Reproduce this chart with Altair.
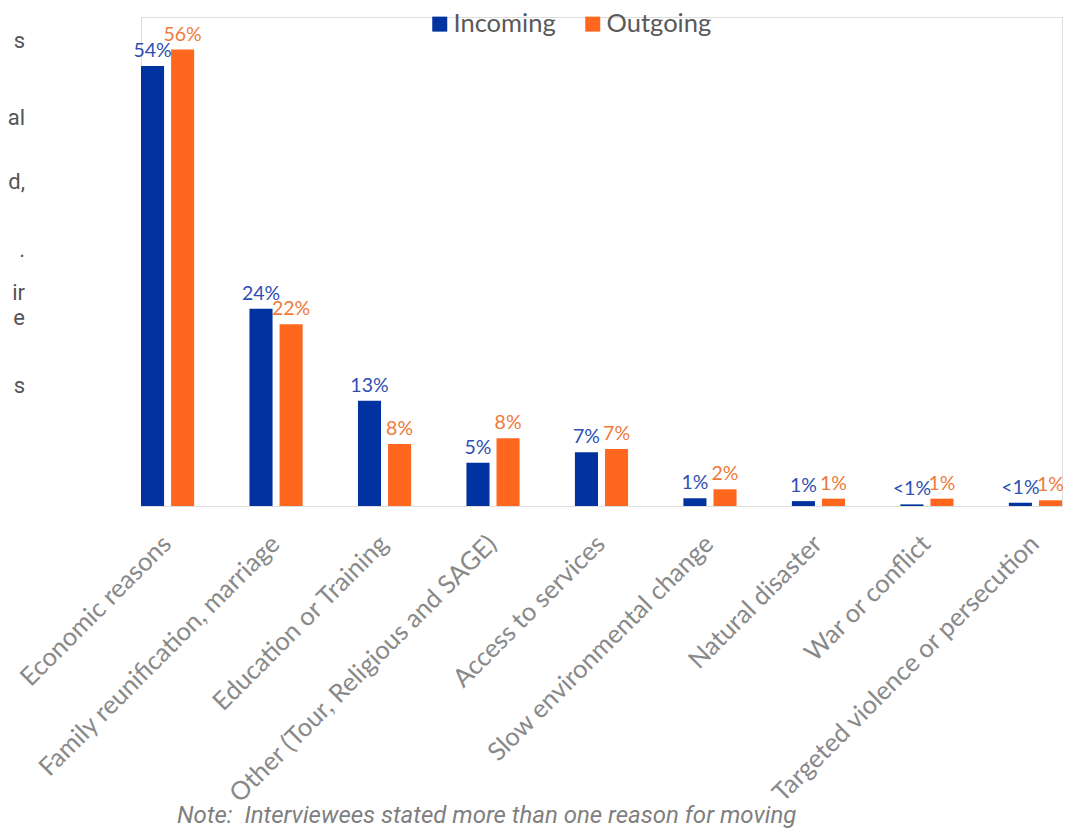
import altair as alt
import pandas as pd

categories = [
    "Economic reasons",
    "Family reunification, marriage",
    "Education or Training",
    "Other (Tour, Religious and SAGE)",
    "Access to services",
    "Slow environmental change",
    "Natural disaster",
    "War or conflict",
    "Targeted violence or persecution",
]
series = ["Incoming", "Outgoing"]
incoming = [54, 24.2, 12.9, 5.3, 6.6, 0.95, 0.6, 0.2, 0.4]
outgoing = [56, 22.3, 7.6, 8.3, 7.0, 2.05, 0.9, 0.9, 0.7]
incoming_labels = ["54%", "24%", "13%", "5%", "7%", "1%", "1%", "<1%", "<1%"]
outgoing_labels = ["56%", "22%", "8%", "8%", "7%", "2%", "1%", "1%", "1%"]
note = "Note:\u00a0 Interviewees stated more than one reason for moving"
fragments = ["s", "al", "d,", ".", "ir", "e", "s"]

# layout (not data): vertical baselines of the cropped body-text fragments
fragment_y = [31, 108, 172, 240, 283, 308, 376]

rows = []
for c, v, l in zip(categories, incoming, incoming_labels):
    rows.append({"category": c, "series": "Incoming", "value": v, "label": l})
for c, v, l in zip(categories, outgoing, outgoing_labels):
    rows.append({"category": c, "series": "Outgoing", "value": v, "label": l})
df = pd.DataFrame(rows)

bar_colors = ["#0033A0", "#FF671F"]
label_colors = {"Incoming": "#2E4FB3", "Outgoing": "#EE7A3A"}

x_enc = alt.X(
    "category:N",
    sort=categories,
    scale=alt.Scale(paddingInner=0.51, paddingOuter=0),
    axis=alt.Axis(
        title=None,
        labelAngle=-45,
        labelFont="Lato",
        labelFontSize=25.5,
        labelColor="#898989",
        labelPadding=25,
        labelOffset=-9,
        labelOverlap=False,
        labelLimit=0,
        labelBound=False,
        ticks=False,
        domain=False,
        grid=False,
    ),
)
xo_enc = alt.XOffset("series:N", sort=series, scale=alt.Scale(domain=series, paddingInner=0.233))
y_enc = alt.Y("value:Q", scale=alt.Scale(domain=[0, 60], nice=False), axis=None)

base = alt.Chart(df)

bars = base.mark_bar().encode(
    x=x_enc,
    xOffset=xo_enc,
    y=y_enc,
    color=alt.Color(
        "series:N",
        scale=alt.Scale(domain=series, range=bar_colors),
        legend=alt.Legend(
            title=None,
            orient="none",
            legendX=286,
            legendY=-6,
            direction="horizontal",
            symbolType="square",
            symbolSize=225,
            symbolStrokeWidth=0,
            labelFont="Lato",
            labelFontSize=25.5,
            labelColor="#595959",
            labelOffset=1,
            columnPadding=24,
            padding=0,
        ),
    ),
)

text_layers = []
for s in series:
    text_layers.append(
        base.transform_filter(alt.datum.series == s)
        .mark_text(dy=-9, baseline="alphabetic", align="center", font="Lato",
                   fontSize=19.5, color=label_colors[s])
        .encode(x=x_enc, xOffset=xo_enc, y=y_enc, text="label:N")
    )

note_layer = alt.Chart(pd.DataFrame({"t": [note]})).mark_text(
    align="left", baseline="alphabetic", font="Roboto", fontStyle="italic",
    fontSize=24, color="#7F7F7F"
).encode(x=alt.value(36), y=alt.value(806), text="t:N")

frag_layers = []
for f, fy in zip(fragments, fragment_y):
    frag_layers.append(
        alt.Chart(pd.DataFrame({"t": [f]})).mark_text(
            align="right", baseline="alphabetic", font="Roboto",
            fontSize=22, color="#555555"
        ).encode(x=alt.value(-116), y=alt.value(fy), text="t:N")
    )

chart = alt.layer(bars, *text_layers, note_layer, *frag_layers).properties(
    width=921,
    height=489,
    padding={"left": 133, "top": 9, "right": 8, "bottom": 322},
    autosize=alt.AutoSizeParams(type="none"),
).configure_view(stroke=None).configure(background="white")

chart.save("out.html", embed_options={"renderer": "svg", "actions": False})
